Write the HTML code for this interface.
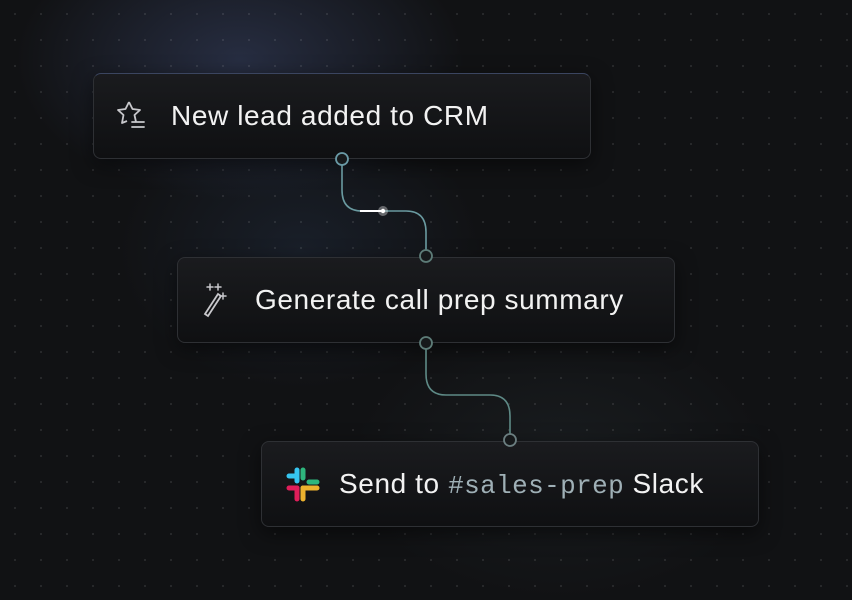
<!DOCTYPE html>
<html><head><style>
html,body{margin:0;padding:0;}
body{width:852px;height:600px;overflow:hidden;position:relative;background:#111214;font-family:"Liberation Sans",sans-serif;}
.bg{position:absolute;inset:0;background:
radial-gradient(ellipse 320px 200px at 240px 60px, rgba(60,72,110,0.5), transparent 70%),
radial-gradient(ellipse 260px 200px at 300px 250px, rgba(40,55,80,0.35), transparent 70%),
radial-gradient(ellipse 300px 200px at 560px 460px, rgba(40,48,52,0.35), transparent 70%);}
.dots{position:absolute;inset:0;background-image:radial-gradient(circle, rgba(255,255,255,0.11) 0.8px, transparent 1.2px);background-size:26px 26px;background-position:2px 1px;}
.box{position:absolute;width:498px;height:86px;border:1px solid #2e3034;border-radius:8px;background:linear-gradient(#1a1b1e,#0f1012);box-shadow:0 6px 20px rgba(0,0,0,0.5);color:#f2f2f2;font-size:28px;letter-spacing:0.6px;box-sizing:border-box;}
.box span.t{position:absolute;left:77px;top:26px;line-height:32px;white-space:nowrap}
.mono{font-family:"Liberation Mono",monospace;color:#9fb0b6;font-size:26px;letter-spacing:0.4px}
svg{position:absolute;left:0;top:0}
</style></head><body>
<div class="bg"></div><div class="dots"></div>
<div class="box" style="left:93px;top:73px;border-top-color:#3b4560">
<svg width="40" height="40" style="left:22px;top:24px" viewBox="0 0 40 40" fill="none" stroke="#c8c8cc" stroke-width="1.8" stroke-linejoin="round"><path d="M13 4 L16.5 11 L24 12 L18.5 17 L20 24 M13 4 L9.5 11 L2 12 L7.5 17 L6 25 L11 23"/><path d="M16 24 H28 M16 29 H28" stroke-linecap="round"/></svg>
<span class="t">New lead added to CRM</span></div>
<div class="box" style="left:177px;top:257px">
<svg width="40" height="40" style="left:22px;top:22px" viewBox="0 0 40 40" fill="none" stroke="#c8c8cc" stroke-width="1.8" stroke-linecap="round"><path d="M5 34 L18 14 L21 16 L8 36 Z"/><path d="M10 4v6M7 7h6M18 4v6M15 7h6M23 13v6M20 16h6" stroke-width="1.5"/></svg>
<span class="t">Generate call prep summary</span></div>
<div class="box" style="left:261px;top:441px">
<svg width="40" height="40" style="left:22px;top:24px" viewBox="0 0 40 40" stroke-linecap="round" stroke-width="5">
<path d="M5 10 H13" stroke="#36c5f0"/><path d="M19 4 V12" stroke="#2eb67d"/><path d="M25 16 H33" stroke="#2eb67d"/><path d="M19 22 H33" stroke="#ecb22e"/><path d="M19 22 V33" stroke="#ecb22e"/><path d="M5 22 H13" stroke="#e01e5a"/><path d="M13 22 V33" stroke="#e01e5a"/><path d="M13 4 V15" stroke="#36c5f0"/></svg>
<span class="t">Send to <span class="mono">#sales-prep</span> Slack</span></div>
<svg width="852" height="600">
<defs><linearGradient id="g1" x1="0" x2="1"><stop offset="0" stop-color="#5e8c96" stop-opacity="0.2"/><stop offset="0.5" stop-color="#6a9aa6"/><stop offset="1" stop-color="#5e8c96" stop-opacity="0.2"/></linearGradient></defs>
<line x1="100" y1="158" x2="585" y2="158" stroke="url(#g1)" stroke-width="1.2"/>
<line x1="185" y1="257" x2="670" y2="257" stroke="url(#g1)" stroke-width="1.2" opacity="0.6"/>
<line x1="185" y1="342" x2="670" y2="342" stroke="url(#g1)" stroke-width="1.2" opacity="0.6"/>
<line x1="270" y1="441" x2="752" y2="441" stroke="url(#g1)" stroke-width="1.2" opacity="0.6"/>
<path d="M342 165 V190 Q342 211 362 211 H406 Q426 211 426 232 V250" fill="none" stroke="#6a9aa0" stroke-width="1.6"/>
<path d="M360 211 H384" stroke="#fff" stroke-width="2"/>
<circle cx="383" cy="211" r="5" fill="#fff" opacity="0.35"/><circle cx="383" cy="211" r="2.2" fill="#fff"/>
<path d="M426 349 V374 Q426 395 446 395 H490 Q510 395 510 416 V434" fill="none" stroke="#5e8a86" stroke-width="1.6"/>
<g fill="#16191b" stroke-width="1.8"><circle cx="342" cy="159" r="6" stroke="#6a9aa6"/><circle cx="426" cy="256" r="6" stroke="#5d7c78"/><circle cx="426" cy="343" r="6" stroke="#5d7c78"/><circle cx="510" cy="440" r="6" stroke="#6b7e80"/></g>
</svg>
</body></html>
